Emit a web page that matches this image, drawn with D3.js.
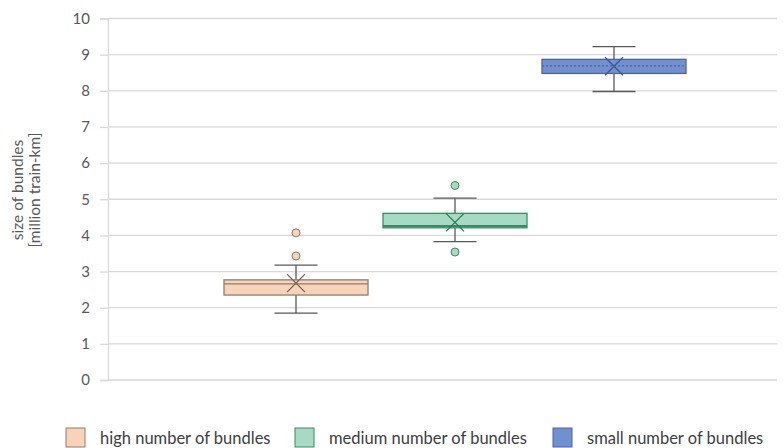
<!DOCTYPE html>
<html>
<head>
<meta charset="utf-8">
<script src="https://cdn.jsdelivr.net/npm/d3@7"></script>
<style>
  html, body { margin: 0; padding: 0; background: #fff; }
  svg { display: block; font-family: Lato, "Open Sans", sans-serif; }
</style>
</head>
<body>
<svg id="chart" width="784" height="448"></svg>
<script>
// Box-plot statistics per bundle group (million train-km)
const categories = ["high number of bundles", "medium number of bundles", "small number of bundles"];
const q1 = [2.35, 4.21, 8.48];
const q3 = [2.77, 4.61, 8.87];
const median = [2.66, 4.26, 8.69];
const mean = [2.68, 4.36, 8.68];
const whiskerLow = [1.85, 3.83, 7.98];
const whiskerHigh = [3.18, 5.03, 9.22];
const outliers = [[3.43, 4.07], [5.38, 3.54], []];
const yTicks = [0, 1, 2, 3, 4, 5, 6, 7, 8, 9, 10];

const fills = ["#F8D3B7", "#A7DAC3", "#7290CD"];
const strokes = ["#8C7D72", "#3A8A68", "#4C64A6"];
const markColors = ["#6E6259", "#2F7A5B", "#3E5696"];

const svg = d3.select("#chart");
const plot = { left: 108, right: 777, top: 18.5, bottom: 380 };

const y = d3.scaleLinear().domain([0, 10]).range([plot.bottom, plot.top]);
const x = d3.scaleBand().domain(categories).range([224, 686]).paddingInner(0.0943).paddingOuter(0);
const bw = x.bandwidth();

// gridlines
svg.append("g").selectAll("line").data(yTicks).join("line")
  .attr("x1", plot.left).attr("x2", plot.right)
  .attr("y1", d => y(d)).attr("y2", d => y(d))
  .attr("stroke", "#D9D9D9").attr("stroke-width", 1.3);

// y axis with outward ticks
const yAxis = d3.axisLeft(y).tickValues(yTicks).tickSize(8).tickPadding(10).tickFormat(d3.format("d"));
const ga = svg.append("g").attr("transform", `translate(${plot.left},0)`).call(yAxis);
ga.select(".domain").attr("stroke", "#D9D9D9").attr("stroke-width", 1.3);
ga.selectAll(".tick line").attr("stroke", "#D9D9D9").attr("stroke-width", 1.3);
ga.selectAll(".tick text").attr("fill", "#595959").style("font-size", "15px").style("font-family", "Lato, sans-serif");

// axis title
const title = svg.append("text")
  .attr("transform", "translate(23,190) rotate(-90)")
  .attr("text-anchor", "middle").attr("fill", "#595959").style("font-size", "15.5px");
title.append("tspan").attr("x", 0).attr("dy", 0).text("size of bundles");
title.append("tspan").attr("x", 0).attr("dy", 17).text("[million train-km]");

const capW = 43;
const boxes = svg.append("g").selectAll("g").data(categories).join("g");

boxes.each(function (c, i) {
  const g = d3.select(this);
  const cx = x(c) + bw / 2;
  // whisker stem
  g.append("line").attr("x1", cx).attr("x2", cx).attr("y1", y(whiskerHigh[i])).attr("y2", y(whiskerLow[i]))
    .attr("stroke", "#595959").attr("stroke-width", 1.3);
  // caps
  [whiskerHigh[i], whiskerLow[i]].forEach(v => {
    g.append("line").attr("x1", cx - capW / 2).attr("x2", cx + capW / 2).attr("y1", y(v)).attr("y2", y(v))
      .attr("stroke", "#595959").attr("stroke-width", 1.3);
  });
  // box
  g.append("rect").attr("x", x(c)).attr("width", bw)
    .attr("y", y(q3[i])).attr("height", y(q1[i]) - y(q3[i]))
    .attr("fill", fills[i]).attr("stroke", strokes[i]).attr("stroke-width", 1.3);
  // median
  g.append("line").attr("x1", x(c)).attr("x2", x(c) + bw).attr("y1", y(median[i])).attr("y2", y(median[i]))
    .attr("stroke", strokes[i]).attr("stroke-width", i === 1 ? 2 : 1.2)
    .attr("stroke-dasharray", i === 2 ? "2,2" : null);
  // mean marker (x)
  const my = y(mean[i]);
  const s = 9;
  g.append("path")
    .attr("d", `M${cx - s},${my - s}L${cx + s},${my + s}M${cx - s},${my + s}L${cx + s},${my - s}`)
    .attr("stroke", markColors[i]).attr("stroke-width", 1.3).attr("fill", "none");
  // outliers
  g.selectAll("circle").data(outliers[i]).join("circle")
    .attr("cx", cx).attr("cy", d => y(d)).attr("r", 4)
    .attr("fill", fills[i]).attr("stroke", strokes[i]).attr("stroke-width", 1);
});

// legend
const legendX = [66, 295, 553];
const lg = svg.append("g").selectAll("g").data(categories).join("g")
  .attr("transform", (d, i) => `translate(${legendX[i]},428)`);
lg.append("rect").attr("width", 19).attr("height", 19)
  .attr("fill", (d, i) => fills[i]).attr("stroke", (d, i) => strokes[i]).attr("stroke-width", 1);
lg.append("text").attr("x", 34).attr("y", 16).attr("fill", "#404040")
  .style("font-size", "16.5px").text(d => d);
</script>
</body>
</html>
